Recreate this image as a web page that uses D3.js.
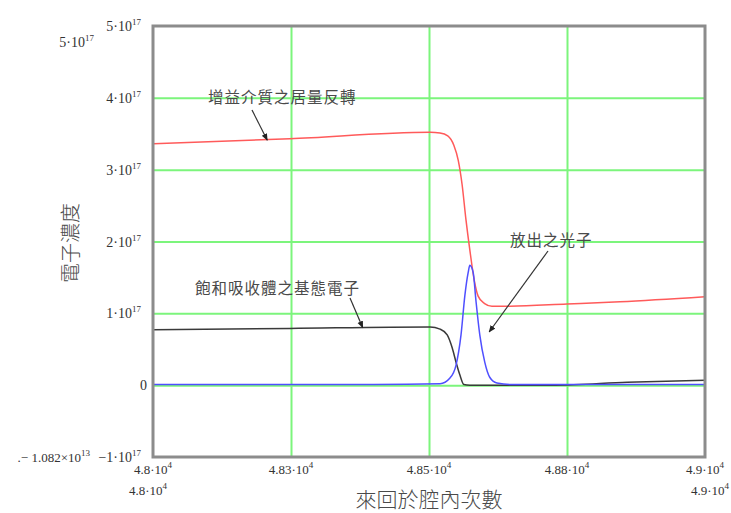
<!DOCTYPE html>
<html>
<head>
<meta charset="utf-8">
<script src="https://cdn.jsdelivr.net/npm/d3@7/dist/d3.min.js"></script>
<style>
body{margin:0;background:#fff;}
text{font-family:"Liberation Serif","DejaVu Serif",serif;fill:#333;}
.cjk{font-family:"Noto Sans CJK TC","Noto Sans CJK SC",sans-serif;fill:#4a4a4a;font-weight:300;}
</style>
</head>
<body>
<svg id="chart" width="731" height="513"></svg>
<script>
// x = round trips in the cavity, y = density in units of 1e17
let xTicks = [48000, 48250, 48500, 48750, 49000];
let xTickLabels = ["4.8", "4.83", "4.85", "4.88", "4.9"];
let yTicks = [-1, 0, 1, 2, 3, 4, 5];

// gain medium population inversion (red)
let redX = [48000, 48248, 48502, 48520, 48534, 48545, 48553, 48560, 48567, 48574, 48582, 48589, 48600, 48614, 48647, 48750, 48846, 49000];
let redY = [3.36, 3.43, 3.52, 3.51, 3.47, 3.34, 3.13, 2.79, 2.30, 1.88, 1.46, 1.24, 1.14, 1.10, 1.10, 1.13, 1.16, 1.23];

// emitted photons (blue)
let blueX = [48000, 48400, 48520, 48538, 48549, 48558, 48565, 48571, 48574, 48580, 48585, 48592, 48601, 48610, 48623, 48647, 49000];
let blueY = [0.01, 0.01, 0.02, 0.10, 0.28, 0.70, 1.25, 1.57, 1.67, 1.57, 1.18, 0.70, 0.32, 0.11, 0.03, 0.01, 0.01];

// saturable absorber ground-state electrons (black)
let blackX = [48000, 48248, 48502, 48520, 48533, 48542, 48549, 48556, 48563, 48574, 48728, 48859, 49000];
let blackY = [0.77, 0.79, 0.81, 0.78, 0.70, 0.52, 0.32, 0.14, 0.01, 0.0, 0.0, 0.04, 0.07];

let svg = d3.select('#chart');
let pL = 153, pR = 705, pT = 26, pB = 457;
let w = pR - pL, h = pB - pT;

let x = d3.scaleLinear().domain([48000, 49000]).range([pL, pR]);
let y = d3.scaleLinear().domain([-1, 5]).range([pB, pT]);

// grid lines
svg.append('g').attr('transform', `translate(0,${pB})`)
    .call(d3.axisBottom(x).tickValues(xTicks.slice(1, -1)).tickSize(-h).tickFormat(''));
svg.append('g').attr('transform', `translate(${pL},0)`)
    .call(d3.axisLeft(y).tickValues([0, 1, 2, 3, 4]).tickSize(-w).tickFormat(''));
svg.selectAll('.domain').remove();
svg.selectAll('.tick line').attr('stroke', '#7cf57c').attr('stroke-width', 2);

// curves
let line = d3.line().x(d => x(d[0])).y(d => y(d[1])).curve(d3.curveMonotoneX);
let series = [
    {xs: redX, ys: redY, color: '#ff5a5a'},
    {xs: blackX, ys: blackY, color: '#3a3a3a'},
    {xs: blueX, ys: blueY, color: '#4f4fff'}
];
series.forEach(s => {
    svg.append('path')
        .datum(d3.zip(s.xs, s.ys))
        .attr('fill', 'none')
        .attr('stroke', s.color)
        .attr('stroke-width', 1.5)
        .attr('d', line);
});

// frame
svg.append('rect').attr('x', pL).attr('y', pT).attr('width', w).attr('height', h)
    .attr('fill', 'none').attr('stroke', '#8c8c8c').attr('stroke-width', 3);

// y tick labels
function powLabel(sel, mant, exp){
    sel.append('tspan').text(mant + '\u00b710');
    sel.append('tspan').attr('dy', -6).attr('font-size', 9).text(exp);
}
yTicks.forEach(v => {
    let t = svg.append('text').attr('x', v == 0 ? 147 : 141).attr('y', y(v) + 5)
        .attr('text-anchor', 'end').attr('font-size', 14);
    if(v == 0) t.text('0');
    else powLabel(t, v < 0 ? '\u22121' : String(v), '17');
});
// extra limit labels (Mathcad style)
powLabel(svg.append('text').attr('x', 94).attr('y', 47).attr('text-anchor', 'end').attr('font-size', 14), '5', '17');
let lim = svg.append('text').attr('x', 90).attr('y', 462).attr('text-anchor', 'end').attr('font-size', 13);
lim.append('tspan').text('.\u2212 1.082\u00d710');
lim.append('tspan').attr('dy', -6).attr('font-size', 9).text('13');

// x tick labels
xTicks.forEach((v, i) => {
    powLabel(svg.append('text').attr('x', x(v)).attr('y', 474).attr('text-anchor', 'middle').attr('font-size', 13), xTickLabels[i], '4');
});
powLabel(svg.append('text').attr('x', x(xTicks[0]) - 5).attr('y', 495).attr('text-anchor', 'middle').attr('font-size', 13), xTickLabels[0], '4');
powLabel(svg.append('text').attr('x', x(xTicks[4]) + 5).attr('y', 495).attr('text-anchor', 'middle').attr('font-size', 13), xTickLabels[4], '4');

// axis titles
svg.append('text').attr('class', 'cjk').attr('x', (pL + pR) / 2).attr('y', 507)
    .attr('text-anchor', 'middle').attr('font-size', 21).text('來回於腔內次數');
svg.append('text').attr('class', 'cjk').attr('transform', 'translate(78,243) rotate(-90)')
    .attr('text-anchor', 'middle').attr('font-size', 20).text('電子濃度');

// annotations with arrows
svg.append('defs').append('marker')
    .attr('id', 'arr').attr('viewBox', '0 0 10 10').attr('refX', 9).attr('refY', 5)
    .attr('markerWidth', 6).attr('markerHeight', 6).attr('orient', 'auto')
    .append('path').attr('d', 'M0,1 L10,5 L0,9 z').attr('fill', '#222');

let notes = [
    {text: '增益介質之居量反轉', tx: 208, ty: 103, fx: 252, fy: 110, px: 48207, py: 3.41},
    {text: '飽和吸收體之基態電子', tx: 195, ty: 294, fx: 350, fy: 298, px: 48380, py: 0.80},
    {text: '放出之光子', tx: 510, ty: 246, fx: 548, fy: 251, px: 48609, py: 0.74}
];
notes.forEach(n => {
    svg.append('text').attr('class', 'cjk').attr('x', n.tx).attr('y', n.ty)
        .attr('font-size', 15.5).attr('letter-spacing', 1).style('font-weight', 400).text(n.text);
    svg.append('line').attr('x1', n.fx).attr('y1', n.fy)
        .attr('x2', x(n.px)).attr('y2', y(n.py))
        .attr('stroke', '#333').attr('stroke-width', 1.2).attr('marker-end', 'url(#arr)');
});
</script>
</body>
</html>
